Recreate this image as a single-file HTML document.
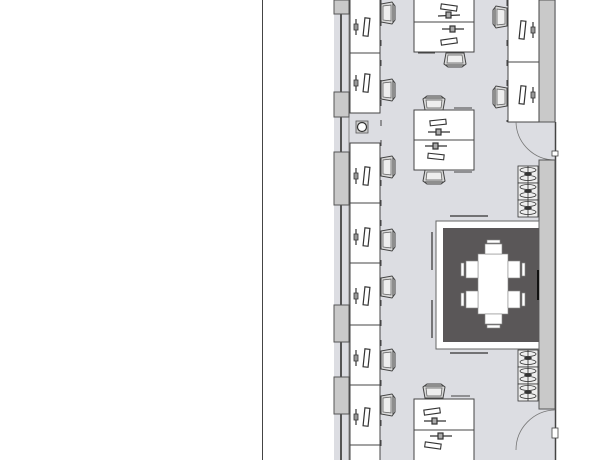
<!DOCTYPE html>
<html><head><style>html,body{margin:0;padding:0;background:#fff}svg{display:block}</style></head>
<body>
<svg width="600" height="460" viewBox="0 0 600 460" xmlns="http://www.w3.org/2000/svg">
<defs>
<g id="mon">
 <rect x="-2" y="-9" width="5" height="18" fill="#fff" stroke="#333" stroke-width="1.2" transform="rotate(6)"/>
 <line x1="-10" y1="-8" x2="-10" y2="8" stroke="#333" stroke-width="1.2"/>
 <rect x="-12" y="-3" width="4" height="6" fill="#999" stroke="#333" stroke-width="0.8"/>
</g>
<g id="chairR">
 <path d="M0,-9 L11,-11 L14,-7 L14,7 L11,11 L0,9 Z" fill="#d8d8d8" stroke="#444" stroke-width="1"/>
 <path d="M2,-7 L10,-8 L10,8 L2,7 Z" fill="#eee" stroke="#555" stroke-width="0.7"/>
 <line x1="12" y1="-10" x2="12" y2="10" stroke="#444"/>
</g>
<g id="chairH">
 <path d="M-9,0 L-11,-11 L-7,-14 L7,-14 L11,-11 L9,0 Z" fill="#d8d8d8" stroke="#444" stroke-width="1"/>
 <path d="M-7,-2 L-8,-10 L8,-10 L7,-2 Z" fill="#eee" stroke="#555" stroke-width="0.7"/>
 <line x1="-10" y1="-12" x2="10" y2="-12" stroke="#444"/>
</g>
<g id="cab">
 <rect x="0" y="0" width="20" height="17" fill="#eee" stroke="#333" stroke-width="0.8"/>
 <line x1="10" y1="0" x2="10" y2="17" stroke="#333" stroke-width="0.8"/>
 <ellipse cx="10" cy="4" rx="8" ry="2.5" fill="none" stroke="#333" stroke-width="0.8"/>
 <ellipse cx="10" cy="12" rx="8" ry="2.5" fill="none" stroke="#333" stroke-width="0.8"/>
 <ellipse cx="10" cy="8" rx="4" ry="1.5" fill="#333"/>
</g>
</defs>
<line x1="262.5" y1="0" x2="262.5" y2="460" stroke="#444" stroke-width="1"/>
<rect x="334" y="0" width="222" height="460" fill="#dcdde2"/>
<line x1="341" y1="0" x2="341" y2="460" stroke="#555" stroke-width="2"/>
<line x1="349" y1="0" x2="349" y2="460" stroke="#888" stroke-width="1"/>
<g fill="#c9c9c9" stroke="#555" stroke-width="1">
 <rect x="334" y="0" width="15" height="14"/>
 <rect x="334" y="92" width="15" height="25"/>
 <rect x="334" y="152" width="15" height="53"/>
 <rect x="334" y="305" width="15" height="37"/>
 <rect x="334" y="377" width="15" height="37"/>
</g>
<g fill="#fff" stroke="#444" stroke-width="1">
 <rect x="350" y="-1" width="30" height="54"/>
 <rect x="350" y="53" width="30" height="60"/>
 <rect x="350" y="143" width="30" height="60"/>
 <rect x="350" y="203" width="30" height="60"/>
 <rect x="350" y="263" width="30" height="62"/>
 <rect x="350" y="325" width="30" height="60"/>
 <rect x="350" y="385" width="30" height="60"/>
 <rect x="350" y="445" width="30" height="20"/>
</g>
<line x1="381" y1="0" x2="381" y2="460" stroke="#444" stroke-width="1" stroke-dasharray="6,14"/>
<use href="#mon" x="366" y="27"/><use href="#mon" x="366" y="83"/>
<use href="#mon" x="366" y="176"/><use href="#mon" x="366" y="237"/>
<use href="#mon" x="366" y="296"/><use href="#mon" x="366" y="358"/>
<use href="#mon" x="366" y="417"/>
<use href="#chairR" x="381" y="13"/><use href="#chairR" x="381" y="90"/>
<use href="#chairR" x="381" y="167"/><use href="#chairR" x="381" y="240"/>
<use href="#chairR" x="381" y="287"/><use href="#chairR" x="381" y="360"/>
<use href="#chairR" x="381" y="405"/>
<rect x="356" y="121" width="12" height="12" fill="#ccc" stroke="#555" stroke-width="0.8"/>
<circle cx="362" cy="127" r="4.5" fill="#fff" stroke="#333" stroke-width="1.2"/>
<g fill="#fff" stroke="#444" stroke-width="1">
 <rect x="414" y="-1" width="60" height="23"/><rect x="414" y="22" width="60" height="30"/>
 <rect x="414" y="110" width="60" height="30"/><rect x="414" y="140" width="60" height="30"/>
 <rect x="414" y="399" width="60" height="31"/><rect x="414" y="430" width="60" height="32"/>
</g>
<g fill="#fff" stroke="#333" stroke-width="1.1">
 <rect x="441" y="5" width="16" height="5" transform="rotate(8 449 7)"/>
 <rect x="441" y="39" width="16" height="5" transform="rotate(-8 449 41)"/>
 <rect x="430" y="120" width="16" height="5" transform="rotate(-6 438 122)"/>
 <rect x="428" y="154" width="16" height="5" transform="rotate(6 436 156)"/>
 <rect x="424" y="409" width="16" height="5" transform="rotate(-8 432 411)"/>
 <rect x="425" y="443" width="16" height="5" transform="rotate(8 433 445)"/>
</g>
<g stroke="#333" stroke-width="1.2" fill="#aaa">
 <line x1="438" y1="16" x2="460" y2="15"/><rect x="446" y="12" width="5" height="6"/>
 <line x1="442" y1="29" x2="464" y2="29"/><rect x="450" y="26" width="5" height="6"/>
 <line x1="428" y1="132" x2="450" y2="132"/><rect x="436" y="129" width="5" height="6"/>
 <line x1="425" y1="146" x2="447" y2="146"/><rect x="433" y="143" width="5" height="6"/>
 <line x1="424" y1="421" x2="446" y2="421"/><rect x="432" y="418" width="5" height="6"/>
 <line x1="430" y1="436" x2="452" y2="436"/><rect x="438" y="433" width="5" height="6"/>
</g>
<g transform="translate(455 53) rotate(180)"><use href="#chairH"/></g>
<use href="#chairH" x="434" y="110"/>
<g transform="translate(434 170) rotate(180)"><use href="#chairH"/></g>
<use href="#chairH" x="434" y="398"/>
<g stroke="#444" stroke-width="1"><line x1="454" y1="108" x2="472" y2="108"/><line x1="454" y1="172" x2="472" y2="172"/><line x1="451" y1="396" x2="470" y2="396"/><line x1="418" y1="53" x2="435" y2="53"/></g>
<rect x="539" y="0" width="16" height="122" fill="#c9c9c9" stroke="#555"/>
<g fill="#fff" stroke="#444">
 <rect x="508" y="-1" width="31" height="63"/><rect x="508" y="62" width="31" height="60"/>
</g>
<line x1="507" y1="0" x2="507" y2="122" stroke="#444" stroke-dasharray="6,14"/>
<g transform="translate(523 30) rotate(180)"><use href="#mon"/></g>
<g transform="translate(523 95) rotate(180)"><use href="#mon"/></g>
<g transform="translate(507 17) rotate(180)"><use href="#chairR"/></g>
<g transform="translate(507 97) rotate(180)"><use href="#chairR"/></g>
<path d="M516,122 A39,39 0 0 0 555,160" fill="none" stroke="#777" stroke-width="0.8"/>
<line x1="555.5" y1="122" x2="555.5" y2="460" stroke="#444" stroke-width="1.5"/>
<rect x="552" y="151" width="6" height="5" fill="#fff" stroke="#444" stroke-width="0.8"/>
<rect x="539" y="160" width="16" height="249" fill="#c9c9c9" stroke="#555"/>
<use href="#cab" x="518" y="166"/><use href="#cab" x="518" y="183"/><use href="#cab" x="518" y="200"/>
<use href="#cab" x="518" y="350"/><use href="#cab" x="518" y="367"/><use href="#cab" x="518" y="384"/>
<path d="M555,410 A40,40 0 0 0 516,450" fill="none" stroke="#777" stroke-width="0.8"/>
<rect x="552" y="428" width="6" height="10" fill="#fff" stroke="#444" stroke-width="0.8"/>
<rect x="436" y="221" width="103" height="128" fill="#fff" stroke="#666"/>
<rect x="443" y="228" width="96" height="114" fill="#5a5758"/>
<line x1="450" y1="216" x2="488" y2="216" stroke="#333" stroke-width="1.2"/>
<line x1="450" y1="353" x2="488" y2="353" stroke="#333" stroke-width="1.2"/>
<line x1="432" y1="232" x2="432" y2="270" stroke="#333" stroke-width="1.2"/>
<line x1="432" y1="300" x2="432" y2="338" stroke="#333" stroke-width="1.2"/>
<line x1="538" y1="270" x2="538" y2="300" stroke="#111" stroke-width="2"/>
<g fill="#fff" stroke="#888" stroke-width="0.6">
 <rect x="478" y="254" width="30" height="60"/>
 <rect x="485" y="244" width="17" height="10"/><rect x="487" y="240" width="13" height="3"/>
 <rect x="485" y="314" width="17" height="10"/><rect x="487" y="325" width="13" height="3"/>
 <rect x="466" y="261" width="12" height="17"/><rect x="461" y="263" width="3" height="13"/>
 <rect x="466" y="291" width="12" height="17"/><rect x="461" y="293" width="3" height="13"/>
 <rect x="508" y="261" width="12" height="17"/><rect x="522" y="263" width="3" height="13"/>
 <rect x="508" y="291" width="12" height="17"/><rect x="522" y="293" width="3" height="13"/>
</g>
</svg>
</body></html>
